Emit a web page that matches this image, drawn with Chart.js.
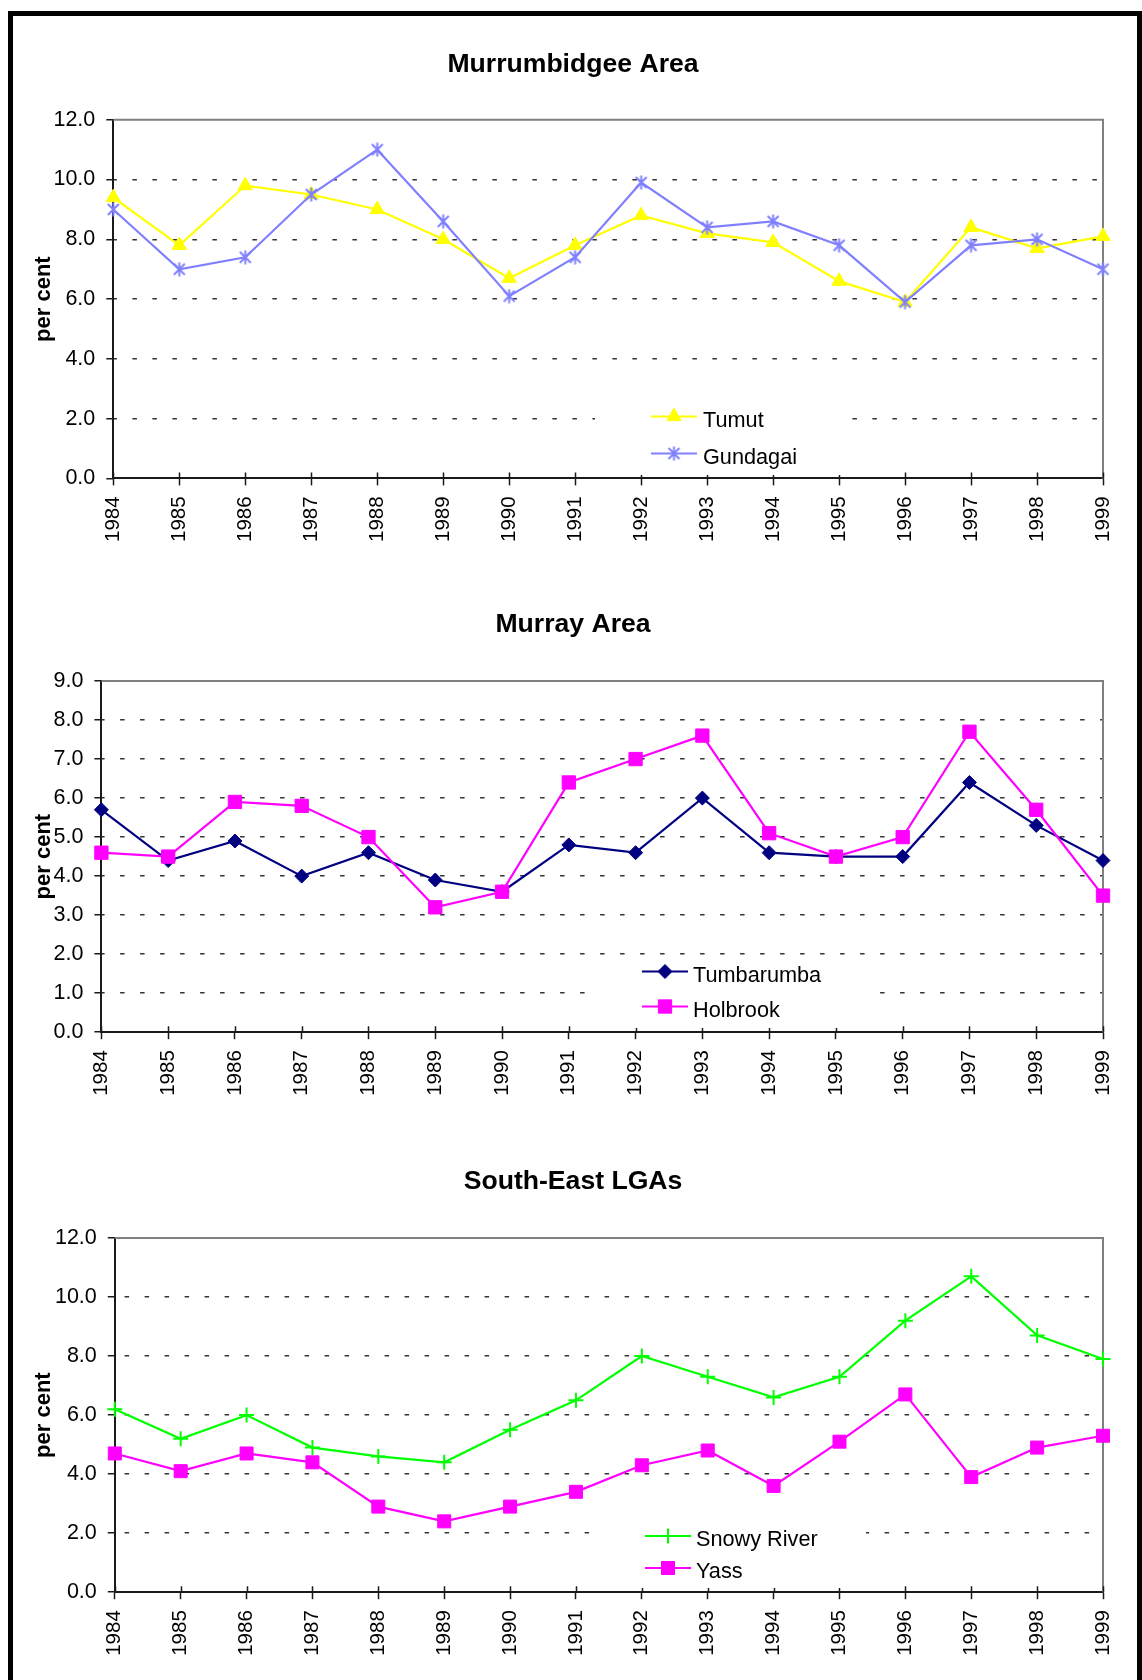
<!DOCTYPE html>
<html>
<head>
<meta charset="utf-8">
<title>Unemployment rate by LGA, 1984-1999</title>
<script src="https://cdn.jsdelivr.net/npm/chart.js@4.4.1/dist/chart.umd.min.js"></script>
<style>
  html, body { margin: 0; padding: 0; background: #fff; }
  #page { position: relative; width: 1142px; height: 1680px; overflow: hidden; background: #fff; }
  #page canvas { position: absolute; left: 0; }
  #frame {
    position: absolute; left: 8px; top: 11px; width: 1134px; height: 1800px;
    border: 5px solid #000; box-sizing: border-box; pointer-events: none; z-index: 5;
  }
</style>
</head>
<body>
<div id="page">
  <canvas id="murrumbidgee" width="1142" height="560" style="top:0px"></canvas>
  <canvas id="murray" width="1142" height="560" style="top:560px"></canvas>
  <canvas id="southEast" width="1142" height="560" style="top:1120px"></canvas>
  <div id="frame"></div>
</div>
<script>
// ---- data -------------------------------------------------------------
const years = ['1984', '1985', '1986', '1987', '1988', '1989', '1990', '1991',
               '1992', '1993', '1994', '1995', '1996', '1997', '1998', '1999'];

const tumut      = [9.4, 7.8, 9.8, 9.5, 9.0, 8.0, 6.7, 7.8, 8.8, 8.2, 7.9, 6.6, 5.9, 8.4, 7.7, 8.1];
const gundagai   = [9.0, 7.0, 7.4, 9.5, 11.0, 8.6, 6.1, 7.4, 9.9, 8.4, 8.6, 7.8, 5.9, 7.8, 8.0, 7.0];

const tumbarumba = [5.7, 4.4, 4.9, 4.0, 4.6, 3.9, 3.6, 4.8, 4.6, 6.0, 4.6, 4.5, 4.5, 6.4, 5.3, 4.4];
const holbrook   = [4.6, 4.5, 5.9, 5.8, 5.0, 3.2, 3.6, 6.4, 7.0, 7.6, 5.1, 4.5, 5.0, 7.7, 5.7, 3.5];

const snowyRiver = [6.2, 5.2, 6.0, 4.9, 4.6, 4.4, 5.5, 6.5, 8.0, 7.3, 6.6, 7.3, 9.2, 10.7, 8.7, 7.9];
const yass       = [4.7, 4.1, 4.7, 4.4, 2.9, 2.4, 2.9, 3.4, 4.3, 4.8, 3.6, 5.1, 6.7, 3.9, 4.9, 5.3];

const yAxisTitle = 'per cent';

// ---- styling ----------------------------------------------------------
const FONT = "'Liberation Sans', Arial, Helvetica, sans-serif";
const AXIS = '#1a1a1a';
const GRID = '#333';
const CHART_H = 560;
const PAD_L = 43, PAD_R = 39;
const TITLE_SIZE = 26.6, TITLE_LH = TITLE_SIZE * 1.2;
const YT_SIZE = 22, YT_LH = YT_SIZE * 1.2;

// asterisk marker: an X with a vertical bar
function makeAsterisk(color, size, lw) {
  const c = document.createElement('canvas');
  c.width = size; c.height = size;
  const g = c.getContext('2d');
  g.strokeStyle = color; g.lineWidth = lw;
  const m = size / 2, r = size / 2 - 0.5, d = r * 0.78;
  g.beginPath();
  g.moveTo(m, m - r); g.lineTo(m, m + r);
  g.moveTo(m - d, m - d); g.lineTo(m + d, m + d);
  g.moveTo(m + d, m - d); g.lineTo(m - d, m + d);
  g.stroke();
  return c;
}
const asterisk = makeAsterisk('#8080FF', 15, 2);

// gray top/right edge of the plot and the inner half of the category ticks
const plotFrame = {
  id: 'plotFrame',
  beforeDatasetsDraw(chart) {
    const { ctx, chartArea: a } = chart;
    const x = chart.scales.x;
    ctx.save();
    ctx.setLineDash([]);
    ctx.strokeStyle = '#808080';
    ctx.lineWidth = 2;
    ctx.beginPath();
    ctx.moveTo(a.left, a.top);
    ctx.lineTo(a.right, a.top);
    ctx.lineTo(a.right, a.bottom);
    ctx.stroke();
    ctx.strokeStyle = AXIS;
    ctx.lineWidth = 1.5;
    ctx.beginPath();
    x.ticks.forEach((t, i) => {
      const px = Math.round(x.getPixelForTick(i)) + 0.5;
      ctx.moveTo(px, a.bottom - 6);
      ctx.lineTo(px, a.bottom);
    });
    ctx.stroke();
    ctx.restore();
  }
};

function drawMarker(ctx, ds, x, y) {
  if (Chart.helpers && Chart.helpers.drawPoint) {
    Chart.helpers.drawPoint(ctx, {
      pointStyle: ds.pointStyle, radius: ds.pointRadius, rotation: 0,
      borderWidth: ds.pointBorderWidth
    }, x, y);
    return;
  }
  const r = ds.pointRadius;
  if (typeof ds.pointStyle === 'object') {
    ctx.drawImage(ds.pointStyle, x - ds.pointStyle.width / 2, y - ds.pointStyle.height / 2);
    return;
  }
  ctx.beginPath();
  if (ds.pointStyle === 'triangle') {
    ctx.moveTo(x, y - r);
    ctx.lineTo(x + r * 0.866, y + r / 2);
    ctx.lineTo(x - r * 0.866, y + r / 2);
    ctx.closePath();
  } else if (ds.pointStyle === 'rectRot') {
    ctx.moveTo(x, y - r); ctx.lineTo(x + r, y); ctx.lineTo(x, y + r); ctx.lineTo(x - r, y);
    ctx.closePath();
  } else if (ds.pointStyle === 'rect') {
    const s = r * Math.SQRT1_2;
    ctx.rect(x - s, y - s, 2 * s, 2 * s);
  } else if (ds.pointStyle === 'cross') {
    ctx.moveTo(x, y - r); ctx.lineTo(x, y + r);
    ctx.moveTo(x - r, y); ctx.lineTo(x + r, y);
  }
  ctx.fill();
  ctx.stroke();
}

// legend box sitting inside the plot area
const insetLegend = {
  id: 'insetLegend',
  afterDatasetsDraw(chart, args, opts) {
    if (!opts || !opts.box) return;
    const ctx = chart.ctx;
    ctx.save();
    ctx.setLineDash([]);
    const [bx1, by1, bx2, by2] = opts.box;
    ctx.fillStyle = '#fff';
    ctx.fillRect(bx1, by1, bx2 - bx1, by2 - by1);
    chart.data.datasets.forEach((ds, i) => {
      const y = opts.rows[i];
      ctx.strokeStyle = ds.borderColor;
      ctx.lineWidth = ds.borderWidth;
      ctx.beginPath();
      ctx.moveTo(opts.line[0], y);
      ctx.lineTo(opts.line[1], y);
      ctx.stroke();
      ctx.fillStyle = ds.pointBackgroundColor;
      ctx.strokeStyle = ds.pointBorderColor;
      ctx.lineWidth = ds.pointBorderWidth;
      drawMarker(ctx, ds, (opts.line[0] + opts.line[1]) / 2, y);
      ctx.fillStyle = '#000';
      ctx.font = '21.7px ' + FONT;
      ctx.textAlign = 'left';
      ctx.textBaseline = 'middle';
      ctx.fillText(ds.label, opts.textX, y + opts.textDy);
    });
    ctx.restore();
  }
};

function makeChart(id, spec) {
  return new Chart(document.getElementById(id), {
    type: 'line',
    data: {
      labels: years,
      datasets: spec.series.map((s, i) => ({
        label: s.label,
        data: s.data,
        borderColor: s.color,
        borderWidth: 2.2,
        pointStyle: s.marker,
        pointRadius: s.radius,
        pointHoverRadius: s.radius,
        pointBackgroundColor: s.color,
        pointBorderColor: s.color,
        pointBorderWidth: s.markerLine,
        tension: 0,
        fill: false,
        clip: false,
        order: spec.series.length - i
      }))
    },
    options: {
      responsive: false,
      animation: false,
      devicePixelRatio: 1,
      events: [],
      layout: { padding: { left: PAD_L, right: PAD_R, top: 0, bottom: 0 } },
      plugins: {
        legend: { display: false },
        tooltip: { enabled: false },
        title: {
          display: true,
          text: spec.title,
          color: '#000',
          font: { family: FONT, size: TITLE_SIZE, weight: 'bold', lineHeight: 1.2 },
          padding: {
            top: spec.titleY - TITLE_LH / 2,
            bottom: spec.plot.top - spec.titleY - TITLE_LH / 2
          }
        },
        insetLegend: spec.legend
      },
      scales: {
        x: {
          afterFit: (s) => { s.height = CHART_H - spec.plot.bottom; },
          grid: {
            drawOnChartArea: false, drawTicks: true, tickLength: 7,
            tickColor: AXIS, tickWidth: 1.5, color: AXIS
          },
          border: { display: true, color: AXIS, width: 2 },
          ticks: {
            autoSkip: false, minRotation: 90, maxRotation: 90, padding: 11,
            color: '#000', font: { family: FONT, size: 20.5 }
          }
        },
        y: {
          min: 0,
          max: spec.yMax,
          afterFit: (s) => { s.width = spec.plot.left - PAD_L; },
          grid: {
            color: (c) => (c.tick && c.tick.value > 0 && c.tick.value < spec.yMax) ? GRID : 'rgba(0,0,0,0)',
            lineWidth: 1.5,
            drawTicks: true, tickLength: 7, tickColor: AXIS, tickWidth: 1.5
          },
          border: { display: true, color: AXIS, width: 2, dash: [4.5, 15.5], dashOffset: spec.dashOffset },
          ticks: {
            stepSize: spec.yStep, padding: 11, color: '#000',
            font: { family: FONT, size: 21.5 },
            callback: (v) => Number(v).toFixed(1)
          },
          title: {
            display: true,
            text: yAxisTitle,
            color: '#000',
            font: { family: FONT, size: YT_SIZE, weight: 'bold', lineHeight: 1.2 },
            padding: { top: 44 - PAD_L - YT_LH / 2, bottom: 0 }
          }
        }
      }
    },
    plugins: [plotFrame, insetLegend]
  });
}

makeChart('murrumbidgee', {
  title: 'Murrumbidgee Area',
  titleY: 65,
  plot: { left: 113.3, top: 119.8, bottom: 478.4 },
  yMax: 12, yStep: 2, dashOffset: 1.6,
  series: [
    { label: 'Tumut', data: tumut, color: '#FFFF00', marker: 'triangle', radius: 8.3, markerLine: 1 },
    { label: 'Gundagai', data: gundagai, color: '#8080FF', marker: asterisk, radius: 7, markerLine: 2 }
  ],
  legend: { box: [595, 395, 848, 475], line: [651, 697], rows: [416.5, 453.5], textX: 703, textDy: 4.5 }
});

makeChart('murray', {
  title: 'Murray Area',
  titleY: 65,
  plot: { left: 101.4, top: 121, bottom: 472.2 },
  yMax: 9, yStep: 1, dashOffset: 1.9,
  series: [
    { label: 'Tumbarumba', data: tumbarumba, color: '#000080', marker: 'rectRot', radius: 7, markerLine: 1 },
    { label: 'Holbrook', data: holbrook, color: '#FF00FF', marker: 'rect', radius: 9.4, markerLine: 1 }
  ],
  legend: { box: [600, 397, 873, 468], line: [642, 688], rows: [411.5, 446.5], textX: 693, textDy: 4.5 }
});

makeChart('southEast', {
  title: 'South-East LGAs',
  titleY: 61.7,
  plot: { left: 114.8, top: 118, bottom: 472.2 },
  yMax: 12, yStep: 2, dashOffset: 11.4,
  series: [
    { label: 'Snowy River', data: snowyRiver, color: '#00FF00', marker: 'cross', radius: 7.5, markerLine: 2 },
    { label: 'Yass', data: yass, color: '#FF00FF', marker: 'rect', radius: 9.2, markerLine: 1 }
  ],
  legend: { box: [595, 393, 866, 468], line: [645, 691], rows: [416, 448], textX: 696, textDy: 4.5 }
});
</script>
</body>
</html>
